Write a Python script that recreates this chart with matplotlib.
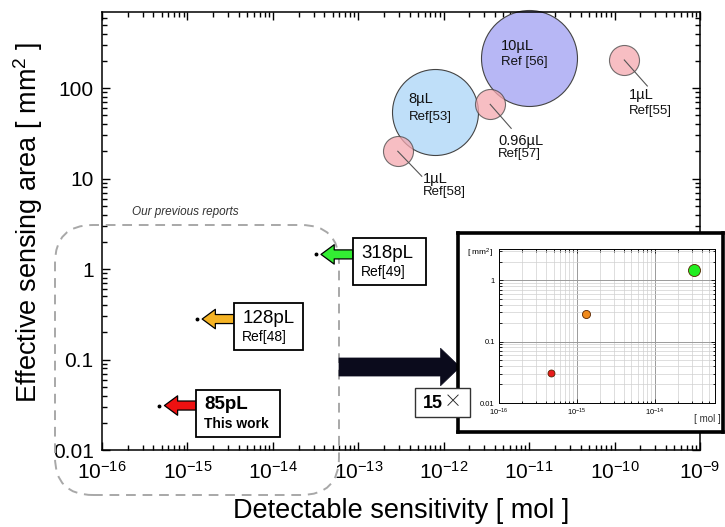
import math
import matplotlib
matplotlib.use("Agg")
import matplotlib.pyplot as plt
from matplotlib.patches import Rectangle, FancyBboxPatch, FancyArrowPatch
from matplotlib.transforms import IdentityTransform
from matplotlib.ticker import LogLocator, FuncFormatter, NullFormatter

plt.rcParams.update({
    "font.family": ["Liberation Sans", "DejaVu Sans"],
    "mathtext.fontset": "custom",
    "mathtext.rm": "Liberation Sans",
    "mathtext.it": "Liberation Sans:italic",
    "mathtext.bf": "Liberation Sans:bold",
})

W, H, DPI = 725, 527, 100

# literature reports (bubbles): sensitivity [mol], area [mm2]
ref_x = [1e-11, 8e-13, 3.5e-12, 1.3e-10, 2.9e-13]
ref_y = [215, 55, 66, 204, 20]
ref_vol = ["10µL", "8µL", "0.96µL", "1µL", "1µL"]
ref_name = ["Ref [56]", "Ref[53]", "Ref[57]", "Ref[55]", "Ref[58]"]

# our reports
our_x = [3.2e-14, 1.3e-15, 4.7e-16]
our_y = [1.45, 0.28, 0.031]
our_vol = ["318pL", "128pL", "85pL"]
our_name = ["Ref[49]", "Ref[48]", "This work"]

x_ticks = [1e-16, 1e-15, 1e-14, 1e-13, 1e-12, 1e-11, 1e-10, 1e-9]
y_ticks = [0.01, 0.1, 1, 10, 100]

# styling
ref_size = [4776, 3833, 467, 467, 467]
ref_color = ["#b7b7f5", "#bfdff9", "#f5a8af", "#f5a8af", "#f5a8af"]
ref_alpha = [1, 1, 0.75, 0.75, 0.75]
# label offsets in pixels (dx right, dy down): volume line, ref line
ref_lbl = [(-28, -12), (-27, -13), (8, 37), (5, 35), (25, 28)]
ref_lbl2 = [(-28, 4), (-27, 5), (8, 50), (5, 51), (25, 41)]
ref_leader = [None, None, (21, 24), (23, 26), (24, 25)]

our_color = ["#33ee33", "#f5b324", "#ee1111"]
our_box_w = [73, 69, 84]
inset_size = [75, 34, 25]
inset_color = ["#22ee22", "#f08a1c", "#e81c1c"]

fig = plt.figure(figsize=(W / DPI, H / DPI), dpi=DPI)
ID = IdentityTransform()


def img(x, y):
    # image pixel (top-left origin) -> display coords
    return (x, H - y)


def pow10(v, p):
    return r"$\mathregular{10^{%d}}$" % round(math.log10(v))


def style_log_axis(a):
    a.set_xscale("log")
    a.set_yscale("log")
    a.xaxis.set_major_formatter(FuncFormatter(pow10))
    a.yaxis.set_major_formatter(FuncFormatter(lambda v, p: "%g" % v))
    a.xaxis.set_minor_locator(LogLocator(base=10, subs=range(2, 10), numticks=20))
    a.yaxis.set_minor_locator(LogLocator(base=10, subs=range(2, 10), numticks=20))
    a.xaxis.set_minor_formatter(NullFormatter())
    a.yaxis.set_minor_formatter(NullFormatter())


ax = fig.add_axes([102 / W, 77 / H, 598 / W, 438 / H])
style_log_axis(ax)
ax.set_xlim(1e-16, 1e-9)
ax.set_ylim(0.01, 10 ** 2.84)
ax.set_xticks(x_ticks)
ax.set_yticks(y_ticks)
ax.tick_params(which="both", direction="in", top=True, right=True, width=1)
ax.tick_params(which="major", length=6, labelsize=15)
ax.tick_params(which="minor", length=3.5)
ax.tick_params(axis="x", pad=8)
ax.tick_params(axis="y", pad=6)
for s in ax.spines.values():
    s.set_linewidth(1.1)
ax.set_xlabel("Detectable sensitivity [ mol ]", fontsize=19.5, va="center")
ax.set_ylabel("Effective sensing area [ mm$^2$ ]", fontsize=19.5, va="center")
ax.xaxis.set_label_coords(0.5, (450 - 511) / 438)
ax.yaxis.set_label_coords((28 - 102) / 598, (450 - 222) / 438)

# bubbles
for i in range(len(ref_x)):
    ax.scatter(ref_x[i], ref_y[i], s=ref_size[i], color=ref_color[i],
               alpha=ref_alpha[i], edgecolors="#444444", linewidths=0.8,
               zorder=3 if ref_alpha[i] < 1 else 2, clip_on=False)

fig.canvas.draw()

for i in range(len(ref_x)):
    px, py = ax.transData.transform((ref_x[i], ref_y[i]))
    if ref_leader[i] is not None:
        dx, dy = ref_leader[i]
        ax.plot([px, px + dx], [py, py - dy], color="#555555", lw=0.8,
                transform=ID, zorder=4)
    dx, dy = ref_lbl[i]
    ax.text(px + dx, py - dy, ref_vol[i], transform=ID, fontsize=10.5,
            ha="left", va="center", zorder=5, color="#111111")
    dx, dy = ref_lbl2[i]
    ax.text(px + dx, py - dy, ref_name[i], transform=ID, fontsize=9.5,
            ha="left", va="center", zorder=5, color="#111111")

# dashed "previous reports" region
dash = FancyBboxPatch(img(55, 495), 284, 270,
                      boxstyle="round,pad=0,rounding_size=38", transform=ID,
                      fc="none", ec="#a8a8a8", lw=1.4, ls=(0, (5, 3.5)),
                      zorder=1)
fig.add_artist(dash)
fig.text(*img(132, 212), "Our previous reports", transform=ID, fontsize=8.5,
         style="italic", color="#333333", ha="left", va="center")

# our data: dots, arrows, labelled boxes
for i in range(len(our_x)):
    ax.plot(our_x[i], our_y[i], "o", ms=1.8, color="black", zorder=6)
    px, py = ax.transData.transform((our_x[i], our_y[i]))
    arr = FancyArrowPatch((px + 37, py), (px + 5, py), transform=ID,
                          arrowstyle="simple,head_length=0.95,head_width=1.4,tail_width=0.65",
                          mutation_scale=10, fc=our_color[i], ec="black",
                          lw=0.9, shrinkA=0, shrinkB=0, zorder=2)
    fig.add_artist(arr)
    box = Rectangle((px + 37, py - 31), our_box_w[i], 47, transform=ID,
                    fc="white", ec="black", lw=1.3, zorder=3)
    fig.add_artist(box)
    wt = "bold" if our_name[i] == "This work" else "normal"
    fig.text(px + 45, py + 1, our_vol[i], transform=ID, fontsize=13.5,
             weight=wt, ha="left", va="center", zorder=4)
    fig.text(px + 45, py - 18, our_name[i], transform=ID, fontsize=10,
             weight=wt, ha="left", va="center", zorder=4)

# big magnification arrow
big = FancyArrowPatch(img(339, 367), img(460, 367), transform=ID,
                      arrowstyle="simple,head_length=0.7,head_width=1.35,tail_width=0.65",
                      mutation_scale=20, fc="#0b0b1c", ec="#0b0b1c", lw=0.5,
                      shrinkA=0, shrinkB=0, zorder=2)
fig.add_artist(big)
fig.add_artist(Rectangle(img(415, 417), 55, 29, transform=ID, fc="white",
                         ec="#333333", lw=1.0, zorder=8))
fig.text(*img(443, 403), "15", transform=ID, fontsize=13, weight="bold",
         ha="right", va="center", zorder=9)
fig.text(*img(444, 402), "×", transform=ID, fontsize=13,
         family=["Noto Sans CJK JP", "DejaVu Sans"], weight="light",
         ha="left", va="center", zorder=9, color="#222222")

# inset frame
frame = fig.add_axes([458 / W, (H - 432) / H, (723 - 458) / W, (432 - 233) / H],
                     zorder=5)
frame.set_xticks([])
frame.set_yticks([])
for s in frame.spines.values():
    s.set_linewidth(2.6)

ins = fig.add_axes([499 / W, (H - 403) / H, 216 / W, 154 / H], zorder=6)
style_log_axis(ins)
ins.set_xlim(1e-16, 10 ** -13.23)
ins.set_ylim(0.01, 3.2)
ins.set_xticks([1e-16, 1e-15, 1e-14])
ins.set_yticks([0.01, 0.1, 1])
ins.tick_params(which="both", direction="in", top=True, right=True, width=0.6)
ins.tick_params(which="major", length=3, labelsize=5.5, pad=3)
ins.tick_params(which="minor", length=1.8)
ins.grid(True, which="major", color="#9a9a9a", lw=0.7)
ins.grid(True, which="minor", color="#d0d0d0", lw=0.5)
ins.set_axisbelow(True)
for s in ins.spines.values():
    s.set_linewidth(0.7)
for i in range(len(our_x)):
    ins.scatter(our_x[i], our_y[i], s=inset_size[i], color=inset_color[i],
                edgecolors="#552200", linewidths=0.6, zorder=3)
fig.text(*img(480, 253), "[ mm$^2$]", transform=ID, fontsize=6,
         ha="center", va="center", zorder=7)
fig.text(*img(707, 419), "[ mol ]", transform=ID, fontsize=7,
         ha="center", va="center", zorder=7, color="#333333")

fig.savefig("out.png", dpi=DPI)
